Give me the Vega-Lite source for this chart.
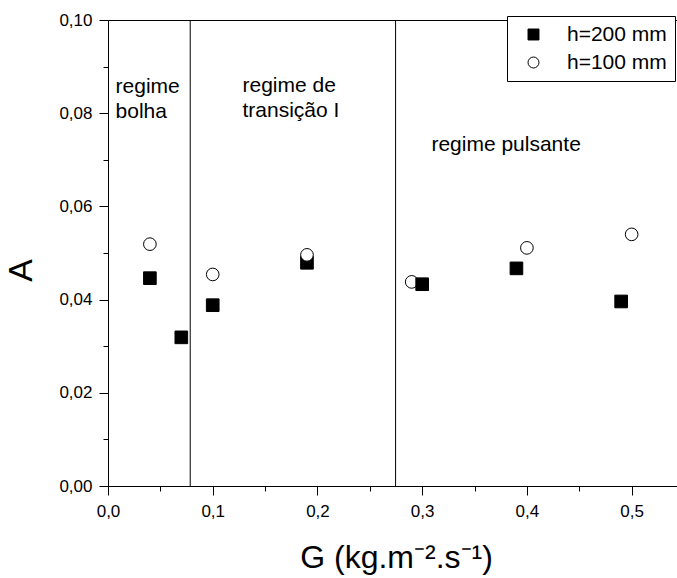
{
  "$schema": "https://vega.github.io/schema/vega-lite/v6.json",
  "width": 576,
  "height": 466,
  "autosize": {"type": "none"},
  "padding": {"left": 108, "top": 20, "right": 0, "bottom": 92},
  "background": "white",
  "config": {
    "view": {"stroke": "black", "strokeWidth": 1},
    "font": "Liberation Sans",
    "axis": {
      "grid": false,
      "domainColor": "black",
      "tickColor": "black",
      "labelColor": "black",
      "titleColor": "black",
      "labelFont": "Liberation Sans",
      "titleFont": "Liberation Sans",
      "titleFontWeight": "normal",
      "labelOverlap": false,
      "labelFlush": false
    },
    "legend": {
      "orient": "none",
      "legendX": 399,
      "legendY": -4,
      "fillColor": "white",
      "strokeColor": "black",
      "padding": 8,
      "symbolOffset": 8,
      "labelOffset": 23,
      "labelFontSize": 21,
      "labelFont": "Liberation Sans",
      "labelColor": "black",
      "labelLimit": 300,
      "symbolSize": 120,
      "symbolStrokeColor": "black",
      "symbolStrokeWidth": 1,
      "rowPadding": 6
    }
  },
  "resolve": {"axis": {"x": "independent", "y": "independent"}},
  "layer": [
    {
      "data": {"values": [{"G": 0.0785, "A": 0, "A2": 0.1}, {"G": 0.2746, "A": 0, "A2": 0.1}]},
      "mark": {"type": "rule", "color": "black", "strokeWidth": 1},
      "encoding": {
        "x": {"field": "G", "type": "quantitative", "scale": {"domain": [0, 0.55], "nice": false, "zero": false}, "axis": null},
        "y": {"field": "A", "type": "quantitative", "scale": {"domain": [0, 0.1], "nice": false, "zero": false}, "axis": null},
        "y2": {"field": "A2"}
      }
    },
    {
      "data": {"values": [{"G": 0, "A": 0}]},
      "mark": {"type": "point", "opacity": 0},
      "encoding": {
        "x": {
          "field": "G", "type": "quantitative",
          "scale": {"domain": [0, 0.55], "nice": false, "zero": false},
          "axis": {"orient": "bottom", "values": [0.05, 0.15, 0.25, 0.35, 0.45], "labels": false, "domain": false, "title": null, "tickSize": 5}
        },
        "y": {
          "field": "A", "type": "quantitative",
          "scale": {"domain": [0, 0.1], "nice": false, "zero": false},
          "axis": {"orient": "left", "values": [0.01, 0.03, 0.05, 0.07, 0.09], "labels": false, "domain": false, "title": null, "tickSize": 5}
        }
      }
    },
    {
      "data": {
        "values": [
          {"serie": "h=200 mm", "G": 0.04, "A": 0.0446},
          {"serie": "h=100 mm", "G": 0.04, "A": 0.0519},
          {"serie": "h=200 mm", "G": 0.07, "A": 0.0319},
          {"serie": "h=200 mm", "G": 0.10, "A": 0.0388},
          {"serie": "h=100 mm", "G": 0.10, "A": 0.0454},
          {"serie": "h=200 mm", "G": 0.19, "A": 0.0479},
          {"serie": "h=100 mm", "G": 0.19, "A": 0.0496},
          {"serie": "h=100 mm", "G": 0.29, "A": 0.0438},
          {"serie": "h=200 mm", "G": 0.30, "A": 0.0433},
          {"serie": "h=200 mm", "G": 0.39, "A": 0.0467},
          {"serie": "h=100 mm", "G": 0.40, "A": 0.0511},
          {"serie": "h=200 mm", "G": 0.49, "A": 0.0396},
          {"serie": "h=100 mm", "G": 0.50, "A": 0.0540}
        ]
      },
      "mark": {"type": "point", "filled": true, "strokeWidth": 1, "opacity": 1, "size": 160},
      "encoding": {
        "x": {
          "field": "G", "type": "quantitative",
          "scale": {"domain": [0, 0.55], "nice": false, "zero": false},
          "axis": {
            "orient": "bottom",
            "title": "G (kg.m⁻².s⁻¹)",
            "titleFontSize": 32,
            "titleBaseline": "alphabetic",
            "titleY": 81,
            "values": [0, 0.1, 0.2, 0.3, 0.4, 0.5],
            "labelExpr": "replace(format(datum.value,'.1f'),'.',',')",
            "labelFontSize": 17,
            "labelPadding": 8,
            "tickSize": 9
          }
        },
        "y": {
          "field": "A", "type": "quantitative",
          "scale": {"domain": [0, 0.1], "nice": false, "zero": false},
          "axis": {
            "orient": "left",
            "title": "A",
            "titleFontSize": 34,
            "titleAngle": 270,
            "titleAlign": "center",
            "titleBaseline": "middle",
            "titleX": -87,
            "titleY": 250,
            "values": [0, 0.02, 0.04, 0.06, 0.08, 0.1],
            "labelExpr": "replace(format(datum.value,'.2f'),'.',',')",
            "labelFontSize": 17,
            "labelPadding": 7,
            "tickSize": 9
          }
        },
        "shape": {
          "field": "serie", "type": "nominal",
          "scale": {"domain": ["h=200 mm", "h=100 mm"], "range": ["square", "circle"]},
          "legend": {"title": null}
        },
        "fill": {
          "field": "serie", "type": "nominal",
          "scale": {"domain": ["h=200 mm", "h=100 mm"], "range": ["black", "white"]},
          "legend": {"title": null}
        },
        "stroke": {
          "field": "serie", "type": "nominal",
          "scale": {"domain": ["h=200 mm", "h=100 mm"], "range": ["black", "black"]},
          "legend": {"title": null}
        }
      }
    },
    {
      "data": {
        "values": [
          {"G": 0.0072, "A": 0.0843, "label": ["regime", "bolha"]},
          {"G": 0.1284, "A": 0.0845, "label": ["regime de", "transição I"]},
          {"G": 0.3088, "A": 0.0719, "label": ["regime pulsante"]}
        ]
      },
      "mark": {"type": "text", "align": "left", "baseline": "alphabetic", "font": "Liberation Sans", "fontSize": 21, "lineHeight": 25, "color": "black"},
      "encoding": {
        "x": {"field": "G", "type": "quantitative", "scale": {"domain": [0, 0.55], "nice": false, "zero": false}, "axis": null},
        "y": {"field": "A", "type": "quantitative", "scale": {"domain": [0, 0.1], "nice": false, "zero": false}, "axis": null},
        "text": {"field": "label"}
      }
    }
  ]
}
